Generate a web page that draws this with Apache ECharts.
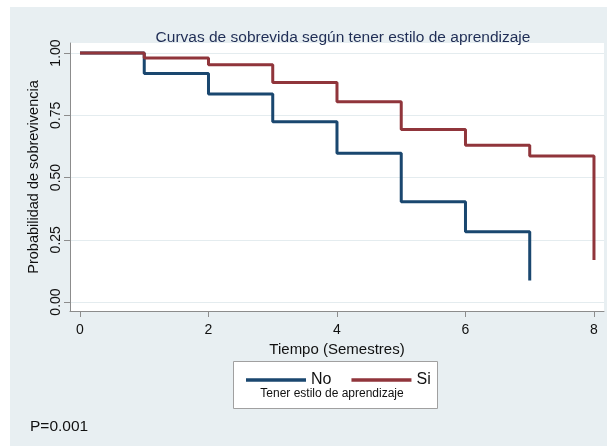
<!DOCTYPE html>
<html><head><meta charset="utf-8">
<script src="https://cdn.jsdelivr.net/npm/echarts@6/dist/echarts.min.js"></script>
<style>
html,body{margin:0;padding:0;background:#fff;}
#bg{position:absolute;left:10px;top:7px;width:597px;height:439px;background:#e8eff2;}
#c{position:absolute;left:0;top:0;width:607px;height:446px;}
</style>
</head><body><div id="bg"></div><div id="c"></div>
<script>
const tiempoNo = [0, 1, 2, 3, 4, 5, 6, 7];
const survNo = [1.00, 0.918, 0.835, 0.724, 0.597, 0.403, 0.282, 0.086];
const tiempoSi = [0, 1, 2, 3, 4, 5, 6, 7, 8];
const survSi = [1.00, 0.980, 0.953, 0.882, 0.804, 0.693, 0.630, 0.586, 0.169];
const xTicks = [0, 2, 4, 6, 8];
const yTicks = [0, 0.25, 0.5, 0.75, 1];

const FONT = '"Liberation Sans", Arial, sans-serif';
const chart = echarts.init(document.getElementById('c'), null, {renderer: 'canvas'});
const axisGray = '#8c8c8c';
chart.setOption({
  animation: false,
  backgroundColor: 'transparent',
  textStyle: {fontFamily: FONT},
  title: {
    text: 'Curvas de sobrevida según tener estilo de aprendizaje',
    left: 338, textAlign: 'center', top: 25,
    textStyle: {fontFamily: FONT, fontSize: 15.5, fontWeight: 'normal', color: '#1f2d55'}
  },
  grid: {left: 70, right: 3, top: 43, bottom: 135, show: true, backgroundColor: '#ffffff', borderWidth: 0},
  xAxis: {
    type: 'value', min: -0.1556, max: 8.156,
    name: 'Tiempo (Semestres)', nameLocation: 'middle', nameGap: 30,
    nameTextStyle: {fontFamily: FONT, fontSize: 15, color: '#111'},
    axisLine: {show: true, onZero: false, lineStyle: {color: axisGray, width: 1}},
    axisTick: {show: true, length: 6, customValues: xTicks, lineStyle: {color: axisGray}},
    axisLabel: {customValues: xTicks, margin: 12, fontFamily: FONT, fontSize: 14, color: '#111'},
    splitLine: {show: false}
  },
  yAxis: {
    type: 'value', min: -0.0361, max: 1.0402,
    name: 'Probabilidad de sobrevivencia', nameLocation: 'middle', nameGap: 24,
    nameTextStyle: {fontFamily: FONT, fontSize: 14.5, color: '#111'},
    axisLine: {show: true, onZero: false, lineStyle: {color: axisGray, width: 1}},
    axisTick: {show: true, length: 6, customValues: yTicks, lineStyle: {color: axisGray}},
    axisLabel: {customValues: yTicks, rotate: 90, margin: 7, fontFamily: FONT, fontSize: 14, color: '#111',
      formatter: v => v.toFixed(2)},
    splitLine: {show: true, lineStyle: {color: '#e4ecef', width: 1}}
  },
  legend: {
    left: 241, top: 367, itemWidth: 60, itemHeight: 3.5, itemGap: 20,
    icon: 'rect',
    textStyle: {fontFamily: FONT, fontSize: 16, color: '#111'},
    data: ['No', 'Si']
  },
  graphic: [
    {type: 'rect', shape: {x: 233.5, y: 361.5, width: 204, height: 47}, style: {fill: '#fff', stroke: '#a0a0a0', lineWidth: 1}, z: 0},
    {type: 'text', x: 332, y: 394, style: {text: 'Tener estilo de aprendizaje', fontFamily: FONT, fontSize: 12, fill: '#111', textAlign: 'center', textVerticalAlign: 'middle'}, z: 5},
    {type: 'text', x: 30, y: 427, style: {text: 'P=0.001', fontFamily: FONT, fontSize: 15.5, fill: '#111', textAlign: 'left', textVerticalAlign: 'middle'}, z: 5}
  ],
  series: [
    {name: 'No', type: 'line', step: 'end', showSymbol: false, clip: false,
      color: '#1a476f', lineStyle: {width: 3, color: '#1a476f'},
      data: tiempoNo.map((t, i) => [t, survNo[i]])},
    {name: 'Si', type: 'line', step: 'end', showSymbol: false, clip: false,
      color: '#90353b', lineStyle: {width: 3, color: '#90353b'},
      data: tiempoSi.map((t, i) => [t, survSi[i]])}
  ]
});
</script>
</body></html>
